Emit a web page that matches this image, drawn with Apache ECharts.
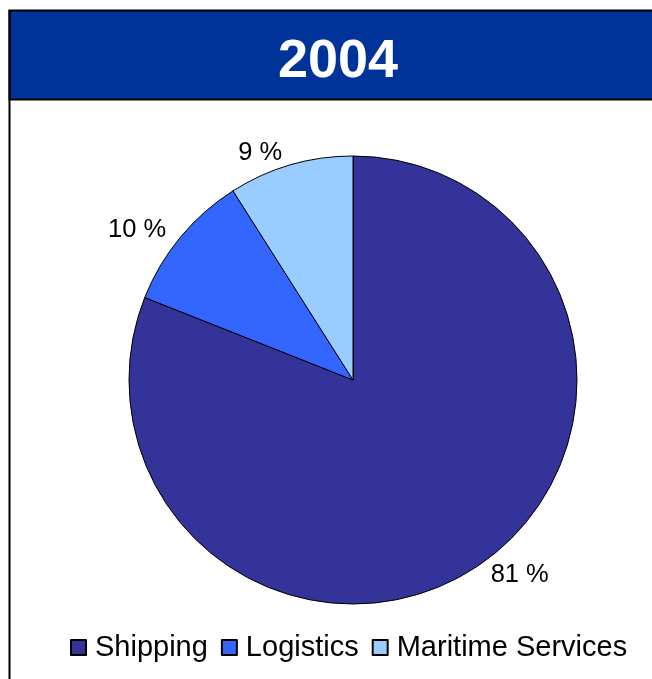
<!DOCTYPE html>
<html>
<head>
<meta charset="utf-8">
<style>
  html, body { margin: 0; padding: 0; background: #fff; }
  #chart { width: 652px; height: 679px; }
</style>
<script src="https://cdn.jsdelivr.net/npm/echarts@6/dist/echarts.min.js"></script>
</head>
<body>
<div id="chart"></div>
<script>
// data
const year = "2004";
const categories = ["Shipping", "Logistics", "Maritime Services"];
const shares = [81, 10, 9];
const colors = ["#333399", "#3366FF", "#99CCFF"];

const font = "'Liberation Sans', Arial, sans-serif";

const myChart = echarts.init(document.getElementById("chart"));
myChart.setOption({
  animation: false,
  color: colors,
  title: {
    text: year,
    left: 273,
    top: 30,
    textStyle: {
      color: "#fff",
      fontSize: 54,
      fontWeight: "bold",
      fontFamily: font,
    },
  },
  graphic: [
    {
      type: "rect",
      z: -1,
      shape: { x: 9.5, y: 10.5, width: 660, height: 89 },
      style: { fill: "#003399", stroke: "#000", lineWidth: 2 },
    },
    {
      type: "line",
      z: -1,
      shape: { x1: 9.5, y1: 10, x2: 9.5, y2: 679 },
      style: { stroke: "#000", lineWidth: 2 },
    },
  ],
  legend: {
    left: 65,
    top: 628,
    icon: "rect",
    itemWidth: 15,
    itemHeight: 15,
    itemGap: 13,
    textStyle: {
      fontSize: 29,
      color: "#000",
      fontFamily: font,
      padding: [0, 0, 0, 4],
    },
    data: categories,
  },
  series: [
    {
      type: "pie",
      center: [353, 380],
      radius: 224,
      startAngle: 90,
      clockwise: true,
      silent: true,
      itemStyle: { borderColor: "#000", borderWidth: 1 },
      label: {
        show: true,
        position: "outside",
        formatter: "{c} %",
        fontSize: 25.5,
        color: "#000",
        fontFamily: font,
      },
      labelLine: { show: false, length: 12, length2: 0 },
      data: categories.map((name, i) => ({ name, value: shares[i] })),
    },
  ],
});
</script>
</body>
</html>
